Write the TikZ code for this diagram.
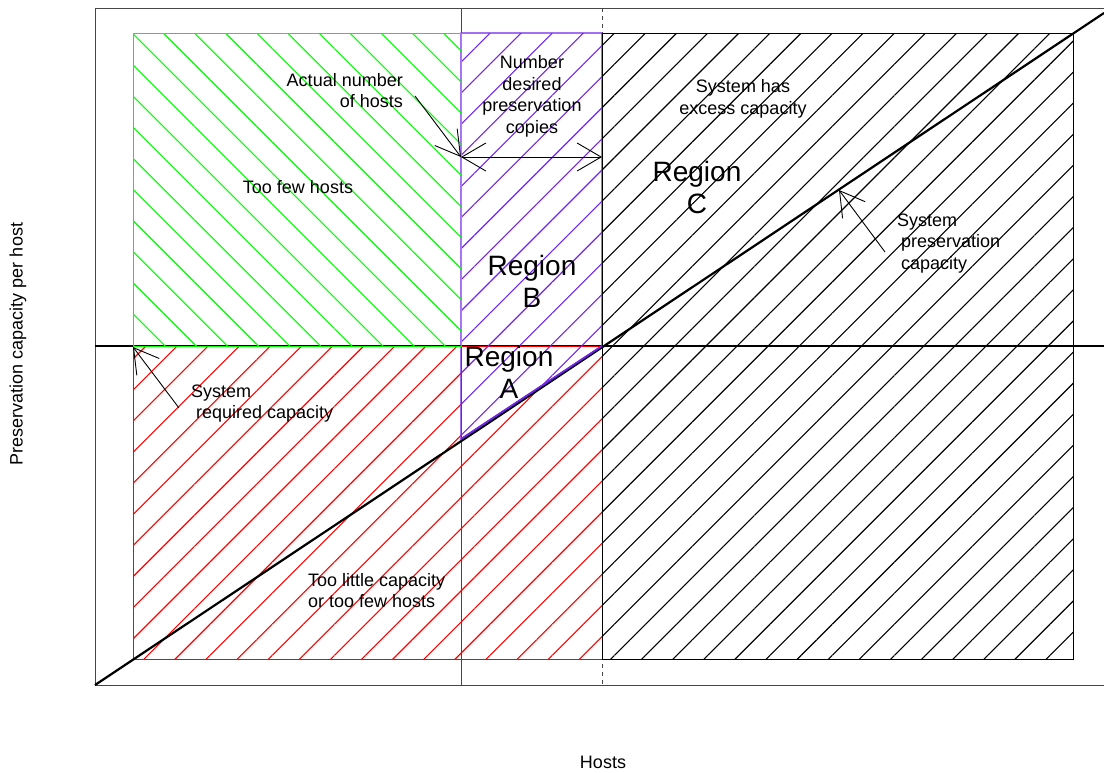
\documentclass[tikz,border=0pt]{standalone}
\usepackage{fontspec}
\setmainfont{Liberation Sans}
\usetikzlibrary{patterns.meta,arrows.meta}

\definecolor{hatchB}{RGB}{115,35,235}
\definecolor{framegray}{RGB}{70,70,70}

\tikzset{
  note/.style={font=\fontsize{18}{21.5}\selectfont, inner sep=0pt, align=center},
  regionname/.style={font=\fontsize{28}{32}\selectfont, inner sep=0pt, align=center},
  barb/.tip={Straight Barb[length=24pt,width=28pt]},
  pointer/.style={-barb, line width=0.9pt},
  twoway/.style={barb-barb, line width=0.9pt},
  hatch/.style={pattern={Lines[angle=#1,distance=22pt,line width=1.1pt]}},
  guide/.style={draw=framegray, line width=1pt}
}

\begin{document}
\begin{tikzpicture}[x=1pt,y=-1pt]
    \useasboundingbox (0,0) rectangle (1104,772);

    % Frame and guide lines
    \draw[guide] (1104,8) -- (95,8) -- (95,685) -- (1104,685);
    \draw[guide] (461,8) -- (461,685);
    \draw[guide,dash pattern=on 4pt off 4pt] (602,8) -- (602,685);
    \draw[black,line width=1.8pt] (95,346) -- (1104,346);

    % Region below the required capacity (red)
    \fill[hatch=45,pattern color=red]
        (133,346) -- (461,346) -- (461,439) -- (602,346) -- (602,659) -- (133,659) -- cycle;
    \draw[red,line width=1pt] (133,346) rectangle (602,659);

    % Region B (purple), including region A
    \draw[hatchB,line width=1.2pt,hatch=45,pattern color=hatchB]
        (461,33) -- (602,33) -- (602,346) -- (461,439) -- cycle;

    % Too few hosts (green)
    \draw[green,line width=1pt,hatch=-45,pattern color=green] (133,33) rectangle (461,346);

    % Region C (black)
    \draw[black,line width=1pt,hatch=45,pattern color=black] (602,33) rectangle (1073,659);

    % System preservation capacity line
    \coordinate (capStart) at (95,685);
    \coordinate (capEnd) at (1104,13);
    \draw[black,line width=2.2pt] (capStart) -- (capEnd);
    \draw[hatchB,line width=1.8pt] (461,439) -- (602,346);

    % Labels
    \node[note,align=right,anchor=east] (actualLbl) at (403,90.5) {Actual number\\of hosts};
    \node[note] (fewLbl) at (298,187) {Too few hosts};
    \node[note] (copiesLbl) at (532,96.5) {Number\\desired\\preservation\\copies};
    \node[note] (excessLbl) at (743,99) {System has\\excess capacity};
    \node[note,align=left,anchor=west] (capLbl) at (897,243.5)
        {System\\\hspace*{4pt}preservation\\\hspace*{4pt}capacity};
    \node[note,align=left,anchor=west] (reqLbl) at (191,403.5)
        {System\\\hspace*{5pt}required capacity};
    \node[note,align=left,anchor=west] (littleLbl) at (308,590.5)
        {Too little capacity\\or too few hosts};

    \node[regionname] (regC) at (697,187) {Region\\C};
    \node[regionname] (regB) at (532,281) {Region\\B};
    \node[regionname] (regA) at (509,372) {Region\\A};

    % Axis titles
    \node[note] (xTitle) at (603,762) {Hosts};
    \node[note,rotate=90] (yTitle) at (18,344) {Preservation capacity per host};

    % Pointers
    \coordinate (hostsMark) at (461,157);
    \coordinate (copiesMark) at (602,157);
    \coordinate (actualTail) at (415,96);
    \coordinate (capMark) at (839,190);
    \coordinate (capTail) at (885,252);
    \coordinate (reqMark) at (133,347);
    \coordinate (reqTail) at (179,408);

    \draw[pointer] (actualTail) -- (hostsMark);
    \draw[twoway] (hostsMark) -- (copiesMark);
    \draw[pointer] (capTail) -- (capMark);
    \draw[pointer] (reqTail) -- (reqMark);

\end{tikzpicture}
\end{document}
